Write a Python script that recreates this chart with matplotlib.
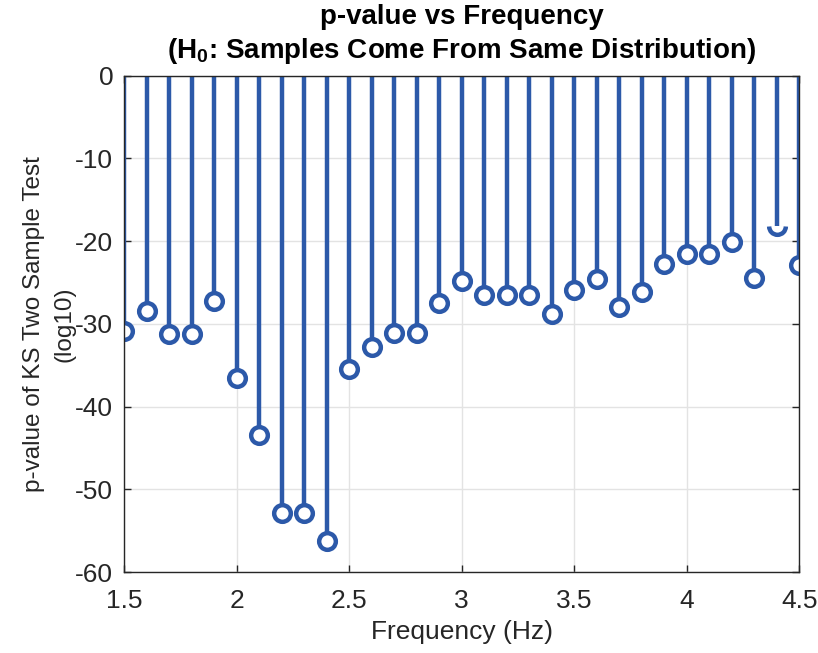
import matplotlib
matplotlib.use("Agg")
import matplotlib.pyplot as plt
from matplotlib.path import Path
import numpy as np

plt.rcParams['font.family'] = ['Liberation Sans', 'DejaVu Sans']
plt.rcParams['mathtext.fontset'] = 'custom'
plt.rcParams['mathtext.rm'] = 'Liberation Sans'
plt.rcParams['mathtext.bf'] = 'Liberation Sans:bold'
plt.rcParams['axes.unicode_minus'] = False

freq = [1.5, 1.6, 1.7, 1.8, 1.9, 2.0, 2.1, 2.2, 2.3, 2.4, 2.5, 2.6, 2.7, 2.8, 2.9, 3.0,
        3.1, 3.2, 3.3, 3.4, 3.5, 3.6, 3.7, 3.8, 3.9, 4.0, 4.1, 4.2, 4.3, 4.4, 4.5]
pval_log10 = [-30.9, -28.5, -31.2, -31.2, -27.2, -36.6, -43.4, -52.9, -52.9, -56.3,
              -35.5, -32.8, -31.1, -31.1, -27.5, -24.8, -26.5, -26.5, -26.5, -28.8,
              -25.9, -24.6, -27.9, -26.2, -22.8, -21.5, -21.5, -20.1, -24.5, -18.2, -22.9]
half_marker_freq = [4.4]

xticks = [1.5, 2, 2.5, 3, 3.5, 4, 4.5]
xticklabels = ['1.5', '2', '2.5', '3', '3.5', '4', '4.5']
yticks = [0, -10, -20, -30, -40, -50, -60]

color = '#2c59a9'

fig = plt.figure(figsize=(8.18, 6.53), dpi=100)
ax = fig.add_axes([0.152, 0.124, 0.825, 0.76])

full_x = [f for f in freq if f not in half_marker_freq]
full_y = [v for f, v in zip(freq, pval_log10) if f not in half_marker_freq]
half_x = [f for f in freq if f in half_marker_freq]
half_y = [v for f, v in zip(freq, pval_log10) if f in half_marker_freq]

# stems
ax.vlines(freq, 0, pval_log10, color=color, linewidth=3.2, zorder=3)
ax.plot(full_x, full_y, 'o', markersize=12, markerfacecolor='white',
        markeredgecolor=color, markeredgewidth=3.2, zorder=4, linestyle='none')
arc = Path.arc(180, 360)
ax.plot(half_x, half_y, marker=arc, markersize=12, markerfacecolor='none',
        markeredgecolor=color, markeredgewidth=3.2, zorder=4, linestyle='none')

ax.set_xlim(1.5, 4.5)
ax.set_ylim(-60, 0)
ax.set_xticks(xticks)
ax.set_xticklabels(xticklabels)
ax.set_yticks(yticks)
ax.grid(True, color='#e3e3e3', linewidth=1.0, zorder=0)
ax.set_axisbelow(True)
ax.tick_params(direction='in', length=5, width=1, colors='#262626', labelsize=19,
               top=True, right=True)
ax.tick_params(axis='x', pad=12)
ax.tick_params(axis='y', pad=8)
for s in ax.spines.values():
    s.set_color('#262626')
    s.set_linewidth(1.0)
    s.set_zorder(5)

ax.set_xlabel('Frequency (Hz)', fontsize=19, color='#262626', labelpad=5)
ax.set_ylabel('p-value of KS Two Sample Test\n(log10)', fontsize=17.5, color='#262626',
              labelpad=0, linespacing=1.45)
ax.set_title('p-value vs Frequency\n(H$_{\\mathbf{0}}$: Samples Come From Same Distribution)',
             fontsize=20, fontweight='bold', color='black', pad=13, linespacing=1.25)

fig.savefig('out.png', dpi=100)
